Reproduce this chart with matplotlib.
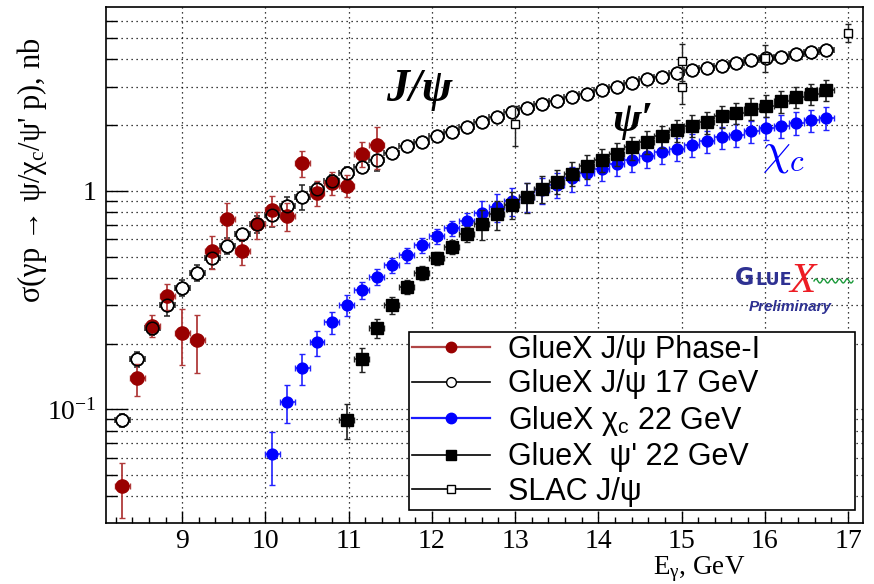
import numpy as np
import matplotlib
matplotlib.use("Agg")
import matplotlib.pyplot as plt
from matplotlib.lines import Line2D
from matplotlib.ticker import FixedLocator, FuncFormatter, NullFormatter, LogLocator

plt.rcParams['font.family'] = ['Liberation Serif', 'DejaVu Serif']
plt.rcParams['mathtext.fontset'] = 'custom'
plt.rcParams['mathtext.rm'] = 'Liberation Serif'
plt.rcParams['mathtext.it'] = 'Liberation Serif:italic'
plt.rcParams['mathtext.sf'] = 'Liberation Sans'

# ---------------- data ----------------
phase1_e = [8.28, 8.46, 8.64, 8.82, 9.00, 9.18, 9.36, 9.54, 9.72, 9.90,
            10.08, 10.26, 10.44, 10.62, 10.80, 10.98, 11.16, 11.34]
phase1_sigma = [0.0445, 0.1386, 0.242, 0.330, 0.224, 0.208, 0.531, 0.741, 0.531, 0.705,
                0.818, 0.770, 1.34, 0.982, 1.092, 1.058, 1.479, 1.615]
phase1_err = [0.0125, 0.023, 0.028, 0.045, 0.064, 0.062, 0.092, 0.14, 0.072, 0.10,
              0.13, 0.115, 0.18, 0.13, 0.135, 0.12, 0.19, 0.35]

jpsi17_e = [8.28, 8.46, 8.64, 8.82, 9.00, 9.18, 9.36, 9.54, 9.72, 9.90,
            10.08, 10.26, 10.44, 10.62, 10.80, 10.98, 11.16, 11.34, 11.52, 11.70,
            11.88, 12.06, 12.24, 12.42, 12.60, 12.78, 12.96, 13.14, 13.32, 13.50,
            13.68, 13.86, 14.04, 14.22, 14.40, 14.58, 14.76, 14.94, 15.12, 15.30,
            15.48, 15.66, 15.84, 16.02, 16.20, 16.38, 16.56, 16.74]
jpsi17_sigma = [0.0895, 0.170, 0.236, 0.299, 0.361, 0.423, 0.494, 0.561, 0.632, 0.705,
                0.776, 0.856, 0.942, 1.018, 1.11, 1.206, 1.293, 1.388, 1.49, 1.60,
                1.667, 1.776, 1.86, 1.955, 2.06, 2.17, 2.29, 2.40, 2.49, 2.57,
                2.69, 2.79, 2.89, 3.00, 3.13, 3.24, 3.33, 3.45, 3.57, 3.64,
                3.73, 3.84, 3.96, 4.04, 4.12, 4.22, 4.34, 4.42]
jpsi17_err = [0.006, 0.013, 0.016, 0.03, 0.03, 0.035, 0.054, 0.045, 0.04, 0.06,
              0.09, 0.085, 0.12, 0.07, 0.07, 0.08, 0.09, 0.16, 0.07, 0.08,
              0.08, 0.08, 0.09, 0.09, 0.1, 0.1, 0.1, 0.11, 0.11, 0.11,
              0.12, 0.12, 0.12, 0.13, 0.13, 0.13, 0.14, 0.14, 0.14, 0.15,
              0.15, 0.15, 0.16, 0.16, 0.16, 0.17, 0.17, 0.18]

chic_e = [10.08, 10.26, 10.44, 10.62, 10.80, 10.98, 11.16, 11.34, 11.52, 11.70,
          11.88, 12.06, 12.24, 12.42, 12.60, 12.78, 12.96, 13.14, 13.32, 13.50,
          13.68, 13.86, 14.04, 14.22, 14.40, 14.58, 14.76, 14.94, 15.12, 15.30,
          15.48, 15.66, 15.84, 16.02, 16.20, 16.38, 16.56, 16.74]
chic_sigma = [0.0622, 0.108, 0.1546, 0.2025, 0.2506, 0.302, 0.351, 0.404, 0.457, 0.508,
              0.565, 0.621, 0.674, 0.731, 0.789, 0.847, 0.90, 0.942, 1.01, 1.066,
              1.143, 1.214, 1.265, 1.33, 1.39, 1.448, 1.506, 1.56, 1.627, 1.685,
              1.758, 1.81, 1.874, 1.94, 1.99, 2.05, 2.105, 2.16]
chic_err = [0.017, 0.021, 0.025, 0.027, 0.030, 0.033, 0.032, 0.034, 0.035, 0.039,
            0.045, 0.05, 0.054, 0.058, 0.115, 0.125, 0.135, 0.14, 0.14, 0.14,
            0.15, 0.146, 0.15, 0.16, 0.165, 0.17, 0.18, 0.19, 0.2, 0.2,
            0.21, 0.22, 0.225, 0.23, 0.24, 0.245, 0.25, 0.26]

psi2s_e = [10.98, 11.16, 11.34, 11.52, 11.70, 11.88, 12.06, 12.24, 12.42, 12.60,
           12.78, 12.96, 13.14, 13.32, 13.50, 13.68, 13.86, 14.04, 14.22, 14.40,
           14.58, 14.76, 14.94, 15.12, 15.30, 15.48, 15.66, 15.84, 16.02, 16.20,
           16.38, 16.56, 16.74]
psi2s_sigma = [0.0895, 0.170, 0.236, 0.299, 0.363, 0.421, 0.493, 0.555, 0.632, 0.705,
               0.784, 0.865, 0.942, 1.025, 1.104, 1.20, 1.30, 1.388, 1.479, 1.582,
               1.675, 1.776, 1.893, 1.99, 2.07, 2.196, 2.276, 2.38, 2.46, 2.575,
               2.70, 2.79, 2.91]
psi2s_err = [0.016, 0.022, 0.024, 0.027, 0.027, 0.03, 0.035, 0.04, 0.05, 0.11,
             0.12, 0.12, 0.15, 0.14, 0.14, 0.15, 0.16, 0.17, 0.18, 0.19,
             0.2, 0.21, 0.22, 0.23, 0.24, 0.25, 0.26, 0.27, 0.28, 0.29,
             0.3, 0.31, 0.32]

slac_e = [13.0, 15.0, 15.0, 16.0, 17.0]
slac_sigma = [2.03, 3.93, 3.00, 4.07, 5.31]
slac_err = [0.42, 0.76, 0.51, 0.57, 0.50]

bin_half = 0.09

legend_labels = ["GlueX J/\u03c8 Phase-I", "GlueX J/\u03c8 17 GeV",
                 "GlueX \u03c7$_\\mathsf{c}$ 22 GeV", "GlueX  \u03c8' 22 GeV", "SLAC J/\u03c8"]

RED = '#990000'
RED_BAR = '#b03a3a'
BLUE = '#0000ff'
NAVY = '#2e3192'

W, H = 874, 584


def fx(px):
    return px / W


def fy(py):
    return 1 - py / H


# ---------------- figure ----------------
fig = plt.figure(figsize=(W / 100, H / 100), dpi=100)
ax = fig.add_axes([fx(106), fy(523), (863 - 106) / W, (523 - 7) / H])
ax.set_yscale('log')
ax.set_xlim(8.085, 17.18)
ax.set_ylim(0.0302, 6.95)

ax.xaxis.set_major_locator(FixedLocator(list(range(9, 18))))
ax.xaxis.set_minor_locator(FixedLocator(np.arange(8.2, 17.19, 0.2)))
ax.yaxis.set_major_locator(FixedLocator([0.1, 1.0]))
ax.yaxis.set_minor_locator(LogLocator(base=10, subs=np.arange(2, 10)))
ax.yaxis.set_major_formatter(FuncFormatter(lambda v, p: '1' if abs(v - 1) < 1e-6 else r'$10^{-1}$'))
ax.yaxis.set_minor_formatter(NullFormatter())

ax.tick_params(which='both', direction='in', top=False, right=False, labelsize=20)
ax.tick_params(axis='x', which='major', length=9, width=1.0, pad=4)
ax.tick_params(axis='x', which='minor', length=4.5, width=1.0)
ax.tick_params(axis='y', which='major', length=16, width=1.0, pad=7)
ax.tick_params(axis='y', which='minor', length=8, width=1.0)
for s in ax.spines.values():
    s.set_linewidth(1.2)

grid_style = dict(color='black', linestyle=(0, (1, 3)), linewidth=0.9)
ax.grid(True, which='major', axis='x', **grid_style)
ax.grid(True, which='both', axis='y', **grid_style)
ax.set_axisbelow(True)

# GlueX J/psi 17 GeV: white-filled first, outlines again on top of Phase-I
ax.errorbar(jpsi17_e, jpsi17_sigma, xerr=bin_half, yerr=jpsi17_err, fmt='o', ms=9,
            mfc='white', mec='black', mew=1.1, ecolor='#222222', elinewidth=1.1,
            capsize=2.2, zorder=3)
ax.errorbar(phase1_e, phase1_sigma, xerr=bin_half, yerr=phase1_err, fmt='o', ms=9.5,
            color=RED, mec=RED, ecolor=RED_BAR, elinewidth=1.3, capsize=2.2, zorder=4)
ax.plot(jpsi17_e, jpsi17_sigma, 'o', ms=9, mfc='none', mec='black', mew=1.1, zorder=5)

ax.errorbar(chic_e, chic_sigma, xerr=bin_half, yerr=chic_err, fmt='o', ms=7.8,
            color=BLUE, mec=BLUE, ecolor='#2222ff', elinewidth=1.2, capsize=2.2, zorder=6)
ax.errorbar(psi2s_e, psi2s_sigma, xerr=bin_half, yerr=psi2s_err, fmt='s', ms=8,
            color='black', ecolor='#222222', elinewidth=1.2, capsize=2.2, zorder=7)
ax.errorbar(slac_e, slac_sigma, yerr=slac_err, fmt='s', ms=5.8, mfc='white', mec='black',
            mew=1.0, ecolor='#222222', elinewidth=1.0, capsize=2.2, zorder=8)

# ---------------- legend ----------------
handles = [
    Line2D([], [], color='#b04545', lw=1.6, marker='o', ms=7.5, mfc=RED, mec=RED),
    Line2D([], [], color='black', lw=1.2, marker='o', ms=7, mfc='white', mec='black'),
    Line2D([], [], color='#1a1aff', lw=1.6, marker='o', ms=7.5, mfc=BLUE, mec=BLUE),
    Line2D([], [], color='black', lw=1.2, marker='s', ms=7, mfc='black', mec='black'),
    Line2D([], [], color='black', lw=1.2, marker='s', ms=5.8, mfc='white', mec='black'),
]
leg = ax.legend(handles, legend_labels, loc='lower left',
                bbox_to_anchor=(0.400, 0.025, 0.589, 0.349), mode='expand',
                borderaxespad=0, fancybox=False, framealpha=1, edgecolor='black',
                prop={'family': ['Liberation Sans', 'DejaVu Sans'], 'size': 22},
                handlelength=2.55, handletextpad=0.6, labelspacing=0.15, borderpad=0.1)
leg.get_frame().set_linewidth(1.2)
leg.set_zorder(10)

# ---------------- labels and annotations ----------------
fig.text(fx(32), fy(170), "\u03c3(\u03b3p \u2192 \u03c8/\u03c7$_\\mathrm{c}$/\u03c8' p), nb",
         rotation=90, ha='center', va='center', fontsize=22)
fig.text(fx(745), fy(574), "E$_\\mathrm{\u03b3}$, GeV", ha='right', va='baseline', fontsize=19.5)

fig.text(fx(386), fy(101), "J/\u03c8", ha='left', va='baseline', fontsize=33,
         fontstyle='italic', fontweight='bold')
fig.text(fx(612), fy(131), "\u03c8\u2032", ha='left', va='baseline', fontsize=31,
         fontstyle='italic', fontweight='bold')
fig.text(fx(762), fy(163), r'$\chi_c$', ha='left', va='baseline', fontsize=32,
         color=BLUE, math_fontfamily='cm')

# GlueX logo
fig.text(fx(735), fy(285), "G", ha='left', va='baseline', fontsize=17, fontweight='bold',
         color=NAVY, family='DejaVu Sans')
fig.text(fx(755), fy(285), "LUE", ha='left', va='baseline', fontsize=12.5, fontweight='bold',
         color=NAVY, family='DejaVu Sans')
fig.text(fx(789), fy(292), "X", ha='left', va='baseline', fontsize=31, fontstyle='italic',
         color='#ed1c24', family='Liberation Serif')
wave_x = np.linspace(fx(814), fx(853), 80)
wave_y = fy(281) + (2.0 / H) * np.sin(np.linspace(0, 10 * np.pi, 80))
fig.add_artist(Line2D(wave_x, wave_y, color='#1a9a3a', lw=1.0, transform=fig.transFigure))
fig.text(fx(749), fy(311), "Preliminary", ha='left', va='baseline', fontsize=11,
         fontstyle='italic', fontweight='bold', color=NAVY, family='Liberation Sans')

fig.savefig('out.png', dpi=100)
